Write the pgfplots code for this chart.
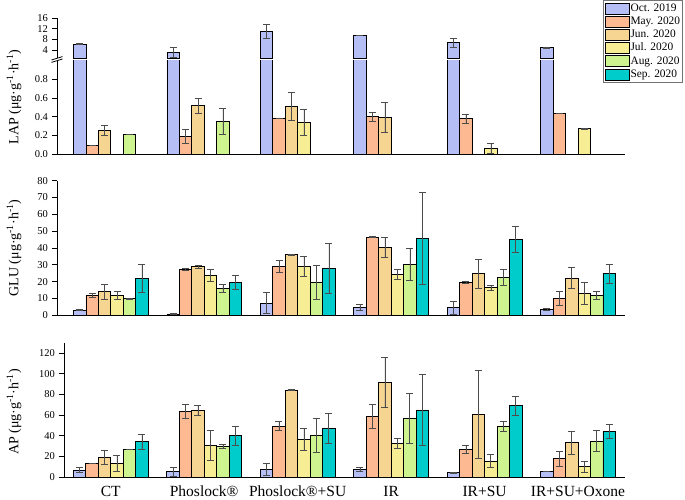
\documentclass[border=0pt]{standalone}
\usepackage{fontspec}
\setmainfont{Liberation Serif}
\usepackage{pgfplots}
\usepackage{pgfplotstable}
\pgfplotsset{compat=1.18}
\definecolor{cOct}{RGB}{182,190,246}
\definecolor{cMay}{RGB}{253,186,146}
\definecolor{cJun}{RGB}{246,212,146}
\definecolor{cJul}{RGB}{246,237,148}
\definecolor{cAug}{RGB}{206,244,144}
\definecolor{cSep}{RGB}{0,204,204}

\pgfplotstableread{
g oct eoct may emay jun ejun jul ejul aug eaug sep esep
0 6.27 0.25 0.096 0 0.254 0.05 nan nan 0.207 0 nan nan
1 3.24 1.8 0.19 0.075 0.52 0.08 nan nan 0.35 0.14 nan nan
2 11.2 2.7 0.386 0 0.51 0.15 0.34 0.14 nan nan nan nan
3 9.7 0 0.40 0.05 0.393 0.165 nan nan nan nan nan nan
4 6.8 1.6 0.38 0.05 nan nan 0.06 0.057 nan nan nan nan
5 4.9 0.1 0.436 0.005 nan nan 0.275 0.005 nan nan nan nan
}\lap

\pgfplotstableread{
g oct eoct may emay jun ejun jul ejul aug eaug sep esep
0 3.2 0.3 11.9 1.2 14.1 4.4 11.9 2.5 9.9 0.2 22.0 8.5
1 0.8 0.4 27.5 0.5 28.9 0.7 24.0 3.5 16.0 2.5 19.6 4.4
2 7.3 6.1 29.1 3.4 36.0 0.2 29.1 6.1 19.6 10 27.9 15
3 4.8 1.8 46.5 0.2 40.4 6.2 24.4 2.8 30.3 9.7 45.9 27.5
4 4.6 3.8 19.6 0.5 24.8 8.5 16.6 1.5 22.6 4.9 45.3 7.7
5 3.6 0.4 10.1 4.4 22.2 6.2 13.1 6.4 11.9 2.5 24.9 5.6
}\glu

\pgfplotstableread{
g oct eoct may emay jun ejun jul ejul aug eaug sep esep
0 6.8 2.3 13.2 0.3 19.0 6.9 13.2 7.9 27.0 0.2 34.1 7.1
1 5.1 4.0 63.7 6.8 64.3 4.8 30.6 14.8 29.3 1.9 40.2 9.3
2 7.7 5.8 49.2 4.3 84.3 0.2 36.4 10.5 40.2 16.5 47.3 14.7
3 7.4 2.3 58.9 11.3 91.7 23.8 32.2 4.8 56.6 24.3 64.7 34.4
4 4.5 0.5 26.7 3.9 60.5 42.8 15.4 6.3 49.5 4.8 68.9 8.9
5 5.5 0.2 17.7 7.4 33.5 11.1 10.0 5.1 34.7 10.1 44.1 6.8
}\ap

\pgfplotsset{
  panel/.style={
    scale only axis,
    axis x line*=bottom, axis y line*=left,
    axis line style={line width=0.9pt,-},
    every tick/.style={line width=0.9pt, black},
    tick align=outside, major tick length=5.5pt,
    xtick=\empty, ytick pos=left,
    tick label style={font=\fontsize{10.5}{12}\selectfont},
    /pgf/number format/assume math mode=true,
  },
  bb/.style={ybar, bar width=0.1333, bar shift=0pt, draw=black, line width=0.7pt, fill=#1, forget plot,
    error bars/.cd, y dir=both, y explicit,
    error bar style={line width=0.6pt, black!70},
    error mark options={rotate=90, mark size=3.5pt, line width=0.6pt, black!70}},
}

\newcommand{\allbars}[1]{%
  \addplot[bb=cOct] table[x expr=\thisrow{g}-0.3333, y=oct, y error=eoct] {#1};
  \addplot[bb=cMay] table[x expr=\thisrow{g}-0.2, y=may, y error=emay] {#1};
  \addplot[bb=cJun] table[x expr=\thisrow{g}-0.0667, y=jun, y error=ejun] {#1};
  \addplot[bb=cJul] table[x expr=\thisrow{g}+0.0667, y=jul, y error=ejul] {#1};
  \addplot[bb=cAug] table[x expr=\thisrow{g}+0.2, y=aug, y error=eaug] {#1};
  \addplot[bb=cSep] table[x expr=\thisrow{g}+0.3333, y=sep, y error=esep] {#1};
}

\begin{document}
\begin{tikzpicture}
\path[use as bounding box] (0pt,0pt) rectangle (685pt,500pt);

% LAP upper part
\begin{axis}[panel, at={(57pt,441.5pt)}, anchor=south west, width=568pt, height=40.1pt,
  xmin=-0.576, xmax=5.503, ymin=0.8, ymax=16, ytick={4,8,12,16}, axis x line=none]
  \addplot[bb=cOct] table[x expr=\thisrow{g}-0.3333, y=oct, y error=eoct] {\lap};
\end{axis}

% LAP lower part
\begin{axis}[panel, at={(57pt,346pt)}, anchor=south west, width=568pt, height=93.3pt,
  xmin=-0.576, xmax=5.503, ymin=0, ymax=1.0, ytick={0,0.2,0.4,0.6,0.8},
  yticklabel style={/pgf/number format/.cd, fixed, fixed zerofill, precision=1},
  legend style={at={(1.102,1.6506)}, anchor=north east, draw=black!55, line width=0.6pt,
    font=\fontsize{11.4}{13}\selectfont, cells={anchor=west}, inner xsep=1.5pt, inner ysep=1.5pt,
    row sep=0pt, nodes={inner xsep=1pt, inner ysep=1.2pt, text height=8.3pt, text depth=2.5pt}},
  legend image code/.code={\draw[#1] (0pt,-5.5pt) rectangle (24pt,5.5pt);}]
  \addlegendimage{fill=cOct, draw=black, line width=0.7pt}\addlegendentry{Oct. 2019}
  \addlegendimage{fill=cMay, draw=black, line width=0.7pt}\addlegendentry{May. 2020}
  \addlegendimage{fill=cJun, draw=black, line width=0.7pt}\addlegendentry{Jun. 2020}
  \addlegendimage{fill=cJul, draw=black, line width=0.7pt}\addlegendentry{Jul. 2020}
  \addlegendimage{fill=cAug, draw=black, line width=0.7pt}\addlegendentry{Aug. 2020}
  \addlegendimage{fill=cSep, draw=black, line width=0.7pt}\addlegendentry{Sep. 2020}
  \allbars{\lap}
\end{axis}

% GLU
\begin{axis}[panel, at={(57pt,184.7pt)}, anchor=south west, width=568pt, height=134.6pt,
  xmin=-0.576, xmax=5.503, ymin=0, ymax=80, ytick={0,10,...,80}]
  \allbars{\glu}
\end{axis}

% AP
\begin{axis}[panel, at={(64pt,23pt)}, anchor=south west, width=561pt, height=134.3pt,
  xmin=-0.5, xmax=5.503, ymin=0, ymax=130, ytick={0,20,...,120},
  xtick={0,1,2,3,4,5}, xticklabels={CT, Phoslock®, Phoslock®+SU, IR, IR+SU, IR+SU+Oxone},
  major x tick style={draw=none},
  x tick label style={font=\fontsize{15.5}{18}\selectfont}]
  \allbars{\ap}
\end{axis}

% axis break marks
\draw[line width=0.8pt] (51.5pt,437.6pt) -- (62.5pt,441.0pt);
\draw[line width=0.8pt] (51.5pt,440.0pt) -- (62.5pt,443.4pt);

\node[rotate=90, font=\fontsize{14}{16}\selectfont] at (14pt,403pt) {LAP (μg·g\textsuperscript{-1}·h\textsuperscript{-1})};
\node[rotate=90, font=\fontsize{14}{16}\selectfont] at (14pt,252pt) {GLU (μg·g\textsuperscript{-1}·h\textsuperscript{-1})};
\node[rotate=90, font=\fontsize{14}{16}\selectfont] at (14pt,88pt) {AP (μg·g\textsuperscript{-1}·h\textsuperscript{-1})};
\end{tikzpicture}
\end{document}
